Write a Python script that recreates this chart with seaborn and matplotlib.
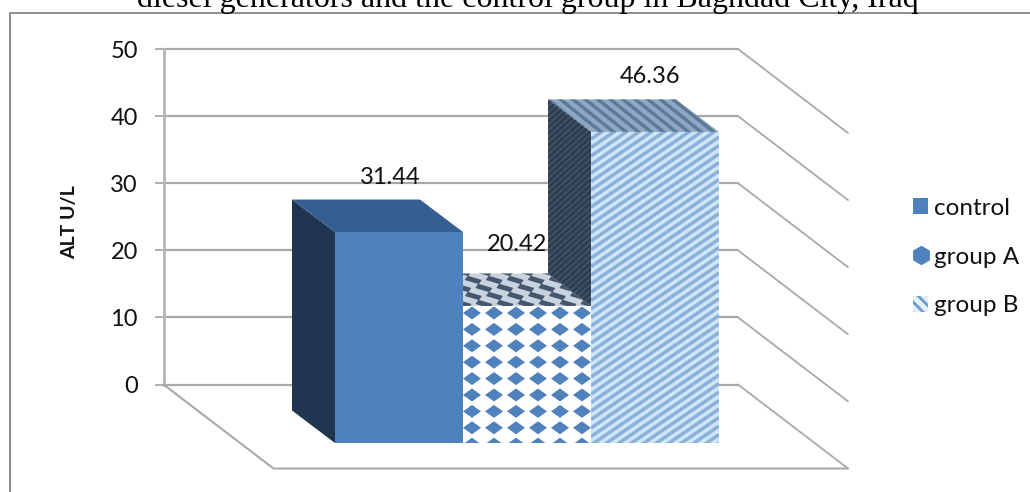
import numpy as np
import matplotlib
matplotlib.use("Agg")
import matplotlib.pyplot as plt
import seaborn as sns
from matplotlib.collections import LineCollection, PolyCollection
from matplotlib.lines import Line2D
from matplotlib.patches import Patch, Polygon

# data
groups = ["control", "group A", "group B"]
alt_values = [31.44, 20.42, 46.36]
y_ticks = [0, 10, 20, 30, 40, 50]
title_text = "diesel generators and the control group in Baghdad City, Iraq"

# colours
BLUE = "#4f81bd"
GRID = "#a9a9a9"
FRAME = "#8e8e8e"

# geometry of the fake 3d box, in pixels
W, H = 1030, 492
BAR_PX = 128
UNIT_PX = 6.71
FIRST_CX, BASE_Y = 399, 443
DEPTH_X, DEPTH_Y = 43, 32.5
FLOOR_X, FLOOR_Y = 110, 84
WALL = (163.5, 384.5, 574.5, 335.5)  # left, bottom y, width, height

sns.set_theme(style="white")
plt.rcParams["font.family"] = ["Lato", "DejaVu Sans"]
plt.rcParams["hatch.linewidth"] = 2.0

fig = plt.figure(figsize=(W / 100, H / 100), dpi=100, facecolor="white")

# back wall: a real axis with its ticks and grid
ax_wall = fig.add_axes([WALL[0] / W, (H - WALL[1]) / H, WALL[2] / W, WALL[3] / H])
ax_wall.set_ylim(0, 50)
ax_wall.set_xlim(0, 1)
ax_wall.set_xticks([])
ax_wall.set_yticks(y_ticks)
ax_wall.tick_params(axis="y", left=True, length=6.5, width=1.3, color=GRID, pad=12,
                    labelsize=17, labelcolor="#111111")
ax_wall.grid(axis="y", color=GRID, lw=1.6)
for line in ax_wall.get_ygridlines():
    line.set_clip_on(False)
for side in ["top", "right", "bottom"]:
    ax_wall.spines[side].set_visible(False)
ax_wall.spines["left"].set_color("#b5b5b5")
ax_wall.spines["left"].set_linewidth(2)
ax_wall.set_ylabel("ALT U/L", fontsize=14, fontweight="bold", color="#111111")
ax_wall.yaxis.set_label_coords((78 - WALL[0]) / WALL[2], 0.485)

# front plane: covers the whole figure, one category = one bar width
ax = fig.add_axes([0, 0, 1, 1], zorder=2)
ax.patch.set_visible(False)
sns.barplot(x=groups, y=alt_values, hue=groups, palette=[BLUE, "white", "#cfe6f7"],
            width=1, dodge=False, saturation=1, errorbar=None, legend=False, ax=ax)
ax.set_xlim(-FIRST_CX / BAR_PX, (W - FIRST_CX) / BAR_PX)
ax.set_ylim(-(H - BASE_Y) / UNIT_PX, BASE_Y / UNIT_PX)
ax.axis("off")
bars = list(ax.patches)

dx = -DEPTH_X / BAR_PX
dy = DEPTH_Y / UNIT_PX


# floor edges and the side wall lines
def wall_point(x, v):
    return ax.transData.inverted().transform(ax_wall.transData.transform((x, v)))


fx, fy = FLOOR_X / BAR_PX, -FLOOR_Y / UNIT_PX
for v in y_ticks:
    px, py = wall_point(1, v)
    ax.plot([px, px + fx], [py, py + fy], color=GRID, lw=1.3, zorder=1)
p0 = wall_point(0, 0)
p1 = wall_point(1, 0)
ax.plot([p0[0], p0[0] + fx, p1[0] + fx], [p0[1], p0[1] + fy, p1[1] + fy],
        color=GRID, lw=1.5, zorder=1)


def add_face(pts, color, z):
    face = Polygon(pts, closed=True, facecolor=color, edgecolor="none", lw=0, zorder=z)
    ax.add_patch(face)
    return face


def add_stripes(face, period_px, slope, color, lw, z):
    # diagonal lines clipped to a face, spacing is vertical in pixels
    pts = face.get_xy()
    xs = pts[:, 0] * BAR_PX
    ys = pts[:, 1] * UNIT_PX
    c_low = (ys - slope * xs).min()
    c_high = (ys - slope * xs).max()
    segs = []
    for c in np.arange(c_low, c_high + period_px, period_px):
        ends = np.array([xs.min(), xs.max()])
        segs.append(np.column_stack([ends / BAR_PX, (slope * ends + c) / UNIT_PX]))
    lc = LineCollection(segs, colors=color, linewidths=lw, zorder=z)
    ax.add_collection(lc, autolim=False)
    lc.set_clip_path(face)


def add_diamonds(face, x0, v0, step_x, step_y, n_x, n_y, half_w, half_h, shear, color, z):
    # diamond tile pattern clipped to a face, everything in pixels from (x0, v0)
    polys = []
    for j in range(n_y):
        for i in range(n_x):
            cy = v0 - j * step_y
            cx = x0 + i * step_x + (cy - v0) * shear
            polys.append([((cx - half_w) / BAR_PX, cy / UNIT_PX),
                          ((cx + (half_h * shear)) / BAR_PX, (cy + half_h) / UNIT_PX),
                          ((cx + half_w) / BAR_PX, cy / UNIT_PX),
                          ((cx - (half_h * shear)) / BAR_PX, (cy - half_h) / UNIT_PX)])
    pc = PolyCollection(polys, facecolors=color, edgecolors="none", zorder=z)
    ax.add_collection(pc, autolim=False)
    pc.set_clip_path(face)


# rightmost bar is painted first, the left ones sit in front of it
side_colors = ["#1f3550", "#1f3550", "#3e5164"]
top_colors = ["#365f91", "#c9d3df", "#8ea8c3"]
fronts, sides, tops = [], [], []
for i, bar in enumerate(bars):
    x0, x1 = bar.get_x(), bar.get_x() + bar.get_width()
    h = bar.get_height()
    z = 10 - 2 * i
    bar.set_zorder(z + 1)
    bar.set_linewidth(0)
    sides.append(add_face([(x0, 0), (x0 + dx, dy), (x0 + dx, h + dy), (x0, h)], side_colors[i], z))
    tops.append(add_face([(x0, h), (x0 + dx, h + dy), (x1 + dx, h + dy), (x1, h)], top_colors[i], z))
    fronts.append(add_face([(x0, 0), (x0, h), (x1, h), (x1, 0)], bar.get_facecolor(), z + 1))

# group A texture
a = bars[1]
ax_x0 = a.get_x() * BAR_PX
a_top = a.get_height() * UNIT_PX
add_diamonds(fronts[1], ax_x0 + 9, a_top - 7, 22, 16.4, 7, 9, 9, 6.5, 0, BLUE, 9.5)
add_diamonds(tops[1], ax_x0, a_top + 2, 21, -8, 9, 5, 8.5, 4.2, -DEPTH_X / DEPTH_Y, "#44576e", 8.5)

# group B texture
add_stripes(fronts[2], 8.5, 0.68, "#8bb1d8", 2.5, 7.5)
add_stripes(tops[2], 10, -0.8, "#5c7998", 2.4, 6.5)
add_stripes(sides[2], 6, 0.9, "#2c3b4d", 1.6, 6.5)

# value labels sit above and left of each front top
label_shift = [(-9, 55), (-10, 61), (-5, 55)]
for bar, val, (sx, sy) in zip(bars, alt_values, label_shift):
    ax.annotate(f"{val:.2f}", (bar.get_x() + bar.get_width() / 2, bar.get_height()),
                xytext=(sx * 0.72, sy * 0.72), textcoords="offset points",
                ha="center", va="center", fontsize=17, color="#111111", zorder=20)

# legend
handles = [
    Patch(facecolor=BLUE, edgecolor="none"),
    Line2D([], [], marker="h", ms=14, color=BLUE, mec="none", ls="none"),
    Patch(facecolor="#e4effa", edgecolor="#6f9bcc", hatch="\\\\\\", lw=0),
]
ax.legend(handles, groups, loc="center left", bbox_to_anchor=(913 / W, 1 - 257 / H),
          bbox_transform=fig.transFigure, frameon=False, fontsize=17.5, borderpad=0,
          borderaxespad=0, handlelength=0.62, handleheight=0.62, handletextpad=0.25,
          labelspacing=1.15, labelcolor="#111111")

# document frame and the caption line cut off at the top of the crop
ax.add_artist(Line2D([10 / W, 10 / W, 1], [0, 1 - 13 / H, 1 - 13 / H], transform=fig.transFigure,
                     color=FRAME, lw=1.4, zorder=0))
fig.text(137 / W, 1 - 6.5 / H, title_text, family="Liberation Serif", fontsize=23,
         color="black", ha="left", va="baseline")

fig.savefig("out.png", dpi=100)
